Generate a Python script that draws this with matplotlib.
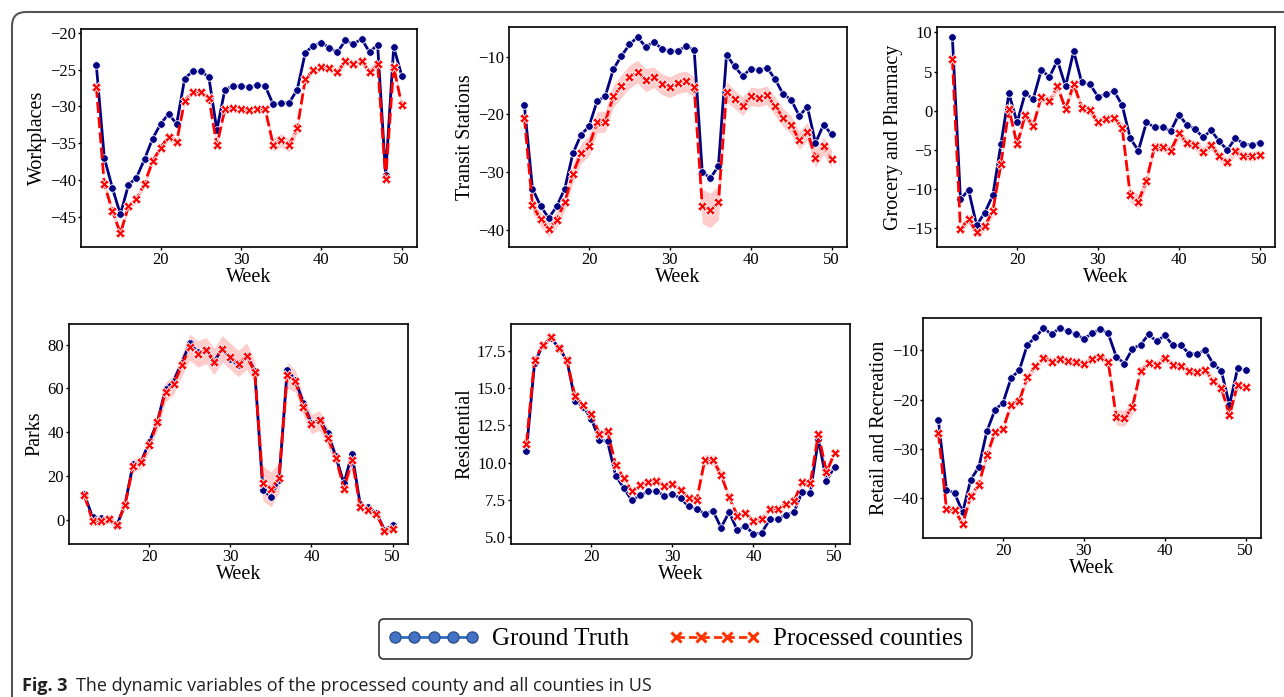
import matplotlib
matplotlib.use("Agg")
import matplotlib.pyplot as plt
from matplotlib.lines import Line2D
from matplotlib.patches import FancyBboxPatch
from matplotlib.legend_handler import HandlerLine2D

serif = ["Liberation Serif", "DejaVu Serif"]
plt.rcParams["font.family"] = serif
plt.rcParams["xtick.labelsize"] = 12
plt.rcParams["ytick.labelsize"] = 12

weeks = list(range(12, 51))

# ---- Workplaces ----
work_gt = [-24.3, -37.0, -41.1, -44.7, -40.7, -39.7, -37.2, -34.4, -32.4, -31.0,
           -32.4, -26.2, -25.2, -25.2, -26.0, -33.2, -27.7, -27.2, -27.2, -27.4,
           -27.1, -27.2, -29.7, -29.5, -29.5, -27.7, -22.7, -21.7, -21.3, -22.0,
           -22.6, -21.0, -21.5, -20.8, -22.6, -21.6, -39.3, -21.9, -25.8]
work_pc = [-27.3, -40.6, -44.2, -47.3, -43.6, -42.6, -40.5, -37.5, -35.6, -34.1,
           -34.8, -29.2, -28.0, -28.0, -28.8, -35.3, -30.4, -30.2, -30.3, -30.5,
           -30.3, -30.3, -35.2, -34.6, -35.3, -33.0, -26.3, -25.0, -24.6, -24.8,
           -25.3, -23.8, -24.2, -23.8, -25.3, -24.2, -39.9, -24.6, -29.8]
work_ci = [0.3, 0.5, 0.5, 0.5, 0.5, 0.5, 0.5, 0.5, 0.5, 0.6,
           0.5, 0.5, 0.5, 0.5, 0.5, 0.5, 0.4, 0.4, 0.4, 0.4,
           0.4, 0.4, 0.9, 0.9, 0.9, 0.6, 0.5, 0.5, 0.5, 0.5,
           0.5, 0.5, 0.5, 0.5, 0.5, 0.5, 0.5, 0.5, 0.4]

# ---- Transit Stations ----
trans_gt = [-18.4, -32.9, -35.9, -38.0, -36.0, -32.9, -26.8, -23.6, -22.1, -17.7,
            -16.9, -12.2, -9.9, -7.9, -6.6, -8.3, -7.5, -8.6, -9.1, -9.0,
            -8.2, -8.8, -30.0, -31.1, -29.0, -9.7, -11.7, -13.4, -12.1, -12.4,
            -11.9, -13.9, -16.5, -17.5, -20.3, -18.7, -25.0, -21.8, -23.5]
trans_pc = [-20.6, -35.8, -38.2, -39.9, -38.3, -35.3, -30.3, -26.8, -25.5, -21.4,
            -21.3, -16.9, -15.1, -13.5, -12.6, -14.1, -13.6, -14.8, -15.3, -14.6,
            -14.3, -15.3, -36.0, -36.7, -35.3, -16.1, -17.4, -18.6, -16.9, -17.1,
            -16.7, -18.6, -20.6, -21.9, -24.5, -23.0, -27.6, -25.5, -27.7]
trans_ci = [0.6, 1.2, 1.3, 1.4, 1.4, 1.4, 1.6, 1.7, 1.8, 1.8,
            1.8, 1.9, 2.0, 2.0, 2.0, 2.0, 1.8, 1.8, 1.8, 1.8,
            1.8, 1.7, 3.0, 3.0, 3.0, 1.8, 1.6, 1.6, 1.6, 1.6,
            1.6, 1.6, 1.6, 1.6, 1.6, 1.6, 1.6, 1.5, 1.5]

# ---- Grocery and Pharmacy ----
groc_gt = [9.4, -11.3, -10.1, -14.6, -13.0, -10.8, -4.3, 2.2, -1.5, 2.2,
           1.5, 5.2, 4.3, 6.4, 3.1, 7.6, 3.6, 3.4, 1.8, 2.1,
           2.5, 0.7, -3.5, -5.1, -1.5, -2.1, -2.1, -2.6, -0.5, -1.8,
           -2.3, -3.4, -2.5, -3.9, -5.0, -3.5, -4.2, -4.4, -4.1]
groc_pc = [6.6, -15.1, -13.8, -15.5, -14.7, -12.8, -6.8, 0.2, -4.3, -0.6,
           -1.9, 1.8, 1.2, 3.1, 0.2, 3.4, 0.4, 0.1, -1.5, -1.0,
           -0.9, -2.2, -10.8, -11.6, -8.9, -4.6, -4.6, -5.1, -2.9, -4.1,
           -4.4, -5.2, -4.4, -5.8, -6.6, -5.1, -5.8, -5.8, -5.6]
groc_ci = [0.3, 0.5, 0.6, 0.6, 0.6, 0.6, 0.6, 0.6, 0.6, 0.6,
           0.6, 0.6, 0.6, 0.6, 0.6, 0.6, 0.6, 0.6, 0.6, 0.6,
           0.6, 0.6, 0.9, 0.9, 0.8, 0.6, 0.6, 0.6, 0.6, 0.6,
           0.6, 0.6, 0.6, 0.6, 0.6, 0.6, 0.6, 0.6, 0.6]

# ---- Parks ----
parks_gt = [11.5, 1.2, 0.6, 0.2, -2.6, 6.9, 25.4, 26.6, 35.4, 44.8,
            59.7, 63.5, 71.7, 80.6, 76.5, 77.5, 72.3, 78.2, 73.5, 70.5,
            75.0, 68.2, 13.5, 10.5, 18.2, 68.5, 63.8, 53.4, 44.0, 45.4,
            39.7, 28.9, 16.6, 30.2, 7.1, 5.7, 2.9, -4.6, -2.6]
parks_pc = [11.1, -0.6, -0.8, 0.3, -2.3, 6.5, 24.5, 26.3, 34.1, 44.5,
            58.3, 61.8, 70.5, 78.9, 75.7, 77.4, 72.3, 78.2, 74.6, 71.4,
            74.8, 67.7, 16.6, 13.8, 19.1, 66.0, 63.4, 51.7, 43.7, 45.4,
            37.5, 28.3, 14.2, 27.4, 5.8, 4.3, 2.6, -5.1, -4.3]
parks_ci = [1.0, 2.0, 2.0, 2.0, 1.5, 1.0, 3.0, 3.0, 3.0, 3.5,
            4.5, 4.5, 5.0, 6.0, 6.0, 6.0, 6.0, 6.0, 6.0, 6.0,
            6.0, 5.0, 8.0, 8.0, 7.0, 6.0, 5.0, 4.5, 4.5, 4.5,
            4.0, 3.0, 2.5, 3.0, 1.5, 1.5, 1.5, 1.5, 1.5]

# ---- Residential ----
res_gt = [10.77, 16.69, 17.88, 18.38, 17.73, 16.87, 14.16, 13.75, 12.96, 11.52,
          11.43, 9.13, 8.30, 7.46, 7.80, 8.06, 8.10, 7.78, 7.86, 7.62,
          7.05, 6.90, 6.56, 6.76, 5.63, 6.67, 5.45, 5.74, 5.20, 5.27,
          6.18, 6.20, 6.50, 6.67, 8.05, 7.96, 11.56, 8.78, 9.73]
res_pc = [11.27, 16.91, 17.90, 18.45, 17.72, 16.90, 14.45, 13.87, 13.26, 11.92,
          12.10, 9.87, 8.97, 8.07, 8.50, 8.72, 8.77, 8.45, 8.56, 8.18,
          7.62, 7.50, 10.20, 10.18, 9.17, 7.68, 6.44, 6.62, 6.08, 6.20,
          6.90, 6.90, 7.20, 7.42, 8.70, 8.60, 11.95, 9.36, 10.66]
res_ci = [0.15, 0.2, 0.2, 0.2, 0.2, 0.2, 0.2, 0.2, 0.2, 0.2,
          0.2, 0.2, 0.2, 0.2, 0.2, 0.2, 0.2, 0.2, 0.2, 0.2,
          0.2, 0.2, 0.35, 0.35, 0.3, 0.2, 0.2, 0.2, 0.2, 0.2,
          0.2, 0.2, 0.2, 0.2, 0.2, 0.2, 0.2, 0.2, 0.2]

# ---- Retail and Recreation ----
ret_gt = [-24.2, -38.3, -38.9, -42.8, -36.2, -33.7, -26.4, -22.1, -20.6, -15.6,
          -14.1, -8.9, -7.4, -5.5, -6.8, -5.5, -6.2, -6.7, -7.7, -6.6,
          -5.7, -6.6, -11.3, -12.7, -9.7, -8.9, -6.8, -8.2, -7.0, -9.0,
          -9.0, -10.7, -10.7, -10.0, -12.8, -14.2, -21.1, -13.7, -14.0]
ret_pc = [-26.7, -42.1, -42.3, -45.2, -39.5, -37.2, -31.3, -26.6, -25.9, -21.0,
          -20.3, -15.4, -13.2, -11.5, -12.3, -11.8, -12.1, -12.3, -12.8, -11.8,
          -11.3, -12.3, -23.6, -23.8, -21.5, -14.2, -12.5, -12.9, -11.5, -13.0,
          -13.1, -14.2, -14.5, -14.1, -16.2, -17.7, -23.2, -17.0, -17.4]
ret_ci = [0.5, 0.8, 0.8, 0.8, 0.8, 0.8, 0.8, 0.8, 0.8, 0.8,
          0.8, 0.8, 0.8, 0.8, 0.8, 0.8, 0.8, 0.8, 0.8, 0.8,
          0.8, 0.8, 1.6, 1.6, 1.5, 0.8, 0.8, 0.8, 0.8, 0.8,
          0.8, 0.8, 0.8, 0.8, 0.8, 0.8, 0.8, 0.8, 0.8]

panels = [
    ("Workplaces", work_gt, work_pc, work_ci),
    ("Transit Stations", trans_gt, trans_pc, trans_ci),
    ("Grocery and Pharmacy", groc_gt, groc_pc, groc_ci),
    ("Parks", parks_gt, parks_pc, parks_ci),
    ("Residential", res_gt, res_pc, res_ci),
    ("Retail and Recreation", ret_gt, ret_pc, ret_ci),
]

W, H = 1284, 697
fig = plt.figure(figsize=(W / 100, H / 100), dpi=100)

# axes boxes in pixels: left, top, right, bottom
boxes = [(81, 29, 417, 247), (509, 27, 847, 247), (937, 27, 1275, 247),
         (69, 324, 408, 544), (511, 324, 850, 544), (923, 318, 1261, 538)]

for (name, gt, pc, ci), (l, t, r, b) in zip(panels, boxes):
    ax = fig.add_axes([l / W, 1 - b / H, (r - l) / W, (b - t) / H])
    lo = [v - c for v, c in zip(pc, ci)]
    hi = [v + c for v, c in zip(pc, ci)]
    ax.fill_between(weeks, lo, hi, color="red", alpha=0.2, lw=0)
    ax.plot(weeks, gt, color="navy", lw=2, marker="o", ms=5.5,
            mec="white", mew=0.6)
    ax.plot(weeks, pc, color="red", lw=2, dashes=(4, 1.5), marker="X",
            ms=6.5, mec="white", mew=0.6)
    ax.set_xticks([20, 30, 40, 50])
    ax.set_xlabel("Week", fontsize=14.5, labelpad=0)
    ax.set_ylabel(name, fontsize=14.5, labelpad=2)
    for s in ax.spines.values():
        s.set_linewidth(1.2)
    ax.tick_params(width=1, length=2.5, pad=1, labelfontfamily="Liberation Serif")

# legend (drawn with its own colours, as in the figure)
h_gt = Line2D([], [], color="#2a6ec2", lw=2, marker="o", ms=8,
              mfc="#4472c4", mec="#2f528f")
h_pc = Line2D([], [], color="#ff3300", lw=2, ls=(0, (3, 1.5)), marker="x",
              ms=7, mew=2.2)
leg = fig.legend([h_gt, h_pc], ["Ground Truth", "Processed counties"],
                 loc="center", bbox_to_anchor=(675 / W, 1 - 639 / H), ncol=2,
                 fontsize=18, frameon=True, fancybox=True, edgecolor="black",
                 handlelength=3.7, columnspacing=1.55, handletextpad=0.5,
                 borderpad=0.35,
                 handler_map={h_gt: HandlerLine2D(numpoints=5),
                              h_pc: HandlerLine2D(numpoints=4)})
leg.get_frame().set_linewidth(1.2)

# page frame
frame = FancyBboxPatch((12, -40), 1320, 697 - 12 + 40,
                       boxstyle="round,pad=0,rounding_size=14",
                       fc="none", ec="#555555", lw=1.5, transform=None)
fig.patches.append(frame)

# caption
cap_font = ["Open Sans", "DejaVu Sans"]
t1 = fig.text(22 / W, 1 - 691 / H, "Fig. 3", fontsize=13, fontweight="bold",
              family=cap_font, va="baseline", color="#231f20")
fig.canvas.draw()
bb = t1.get_window_extent()
fig.text((bb.x1 + 9) / W, 1 - 691 / H,
         "The dynamic variables of the processed county and all counties in US",
         fontsize=13, family=cap_font, va="baseline", color="#231f20")

fig.savefig("out.png", dpi=100)
